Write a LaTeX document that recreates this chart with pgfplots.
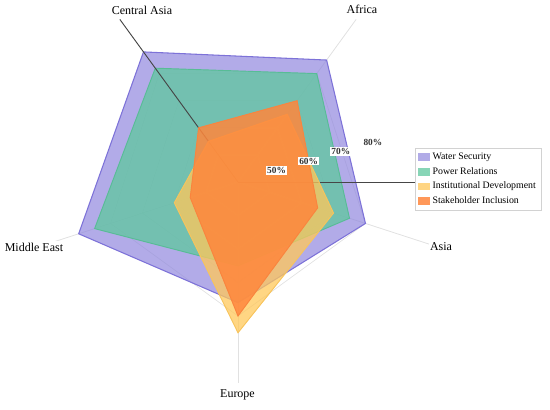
\documentclass[border=0pt]{standalone}
\usepackage{pgfplots}
\usepackage{pgfplotstable}
\pgfplotsset{compat=1.18}
\usepackage{fontspec}
\setmainfont{Liberation Serif}

\definecolor{wsfill}{RGB}{145,136,222}
\definecolor{wsline}{RGB}{125,114,216}
\definecolor{prfill}{RGB}{95,200,158}
\definecolor{prline}{RGB}{88,188,150}
\definecolor{idfill}{RGB}{255,200,90}
\definecolor{idline}{RGB}{248,196,92}
\definecolor{sifill}{RGB}{255,135,60}
\definecolor{siline}{RGB}{250,132,62}
\definecolor{gridc}{RGB}{225,225,225}
\definecolor{darkl}{RGB}{70,70,70}

% angle (deg), then one column per series; radial axis runs from 40 to 100
\pgfplotstableread{
a    ws  pr  id  si
126  88  82  55  60
54   85  80  65  70
-18  80  75  70  65
-90  76  65  85  80
198  90  85  60  55
}\radar

\begin{document}
\begin{tikzpicture}
\begin{axis}[
  x=2.5125pt, y=2.5125pt,
  xmin=-71.04, xmax=93.13, ymin=-67.76, ymax=54.33,
  hide axis, clip=false,
  legend cell align=left,
  legend style={at={(0.7545,0.638)}, anchor=north west, draw=gray!35, fill=white,
    font=\fontsize{7.4}{8.5}\selectfont, inner xsep=2pt, inner ysep=1.5pt,
    row sep=0.4pt},
  legend image code/.code={\fill[#1,draw=none] (0pt,-2.8pt) rectangle (9pt,3pt);},
]
% polygon grid and spokes
\pgfplotsinvokeforeach{10,20,30,40}{
  \draw[gridc, line width=0.5pt] (axis cs:{#1*cos(126)},{#1*sin(126)}) -- (axis cs:{#1*cos(54)},{#1*sin(54)}) -- (axis cs:{#1*cos(-18)},{#1*sin(-18)}) -- (axis cs:{#1*cos(-90)},{#1*sin(-90)}) -- (axis cs:{#1*cos(198)},{#1*sin(198)}) -- cycle;
}
\pgfplotsinvokeforeach{54,-18,-90,198}{
  \draw[gridc, line width=0.6pt] (axis cs:0,0) -- (axis cs:{60*cos(#1)},{60*sin(#1)});
}

\addplot[fill=wsfill, fill opacity=0.7, draw=wsline, line width=0.8pt]
  table[x expr={(\thisrow{ws}-40)*cos(\thisrow{a})}, y expr={(\thisrow{ws}-40)*sin(\thisrow{a})}] {\radar} -- cycle;
\addlegendentry{Water Security}
\addplot[fill=prfill, fill opacity=0.75, draw=prline, line width=0.7pt]
  table[x expr={(\thisrow{pr}-40)*cos(\thisrow{a})}, y expr={(\thisrow{pr}-40)*sin(\thisrow{a})}] {\radar} -- cycle;
\addlegendentry{Power Relations}

\draw[darkl, line width=0.7pt] (axis cs:0,0) -- (axis cs:{60*cos(126)},{60*sin(126)});
\draw[darkl, line width=0.7pt] (axis cs:0,0) -- (axis cs:60,0);

\addplot[fill=idfill, fill opacity=0.75, draw=idline, line width=0.7pt]
  table[x expr={(\thisrow{id}-40)*cos(\thisrow{a})}, y expr={(\thisrow{id}-40)*sin(\thisrow{a})}] {\radar} -- cycle;
\addlegendentry{Institutional Development}
\addplot[fill=sifill, fill opacity=0.85, draw=siline, line width=0.7pt]
  table[x expr={(\thisrow{si}-40)*cos(\thisrow{a})}, y expr={(\thisrow{si}-40)*sin(\thisrow{a})}] {\radar} -- cycle;
\addlegendentry{Stakeholder Inclusion}

% radial tick labels
\pgfplotsinvokeforeach{50,60,70,80}{
  \node[fill=white, inner sep=0.8pt, font=\fontsize{7}{8}\selectfont\bfseries, text=black!80]
    at (axis cs:{(#1-38)*cos(16.5)},{(#1-38)*sin(16.5)}) {#1\%};
}

% category labels
\node[fill=white, inner sep=1pt, font=\fontsize{9}{10}\selectfont] at (axis cs:-28.66,51.34) {Central Asia};
\node[fill=white, inner sep=1pt, font=\fontsize{9}{10}\selectfont] at (axis cs:37.0,51.6) {Africa};
\node[fill=white, inner sep=1pt, font=\fontsize{9}{10}\selectfont] at (axis cs:60.6,-19.4) {Asia};
\node[fill=white, inner sep=1pt, font=\fontsize{9}{10}\selectfont] at (axis cs:-0.15,-63.6) {Europe};
\node[fill=white, inner sep=1pt, font=\fontsize{9}{10}\selectfont] at (axis cs:-60.9,-19.4) {Middle East};
\end{axis}
\pgfresetboundingbox
\path[use as bounding box] (current axis.south west) rectangle (current axis.north east);
\end{tikzpicture}
\end{document}
